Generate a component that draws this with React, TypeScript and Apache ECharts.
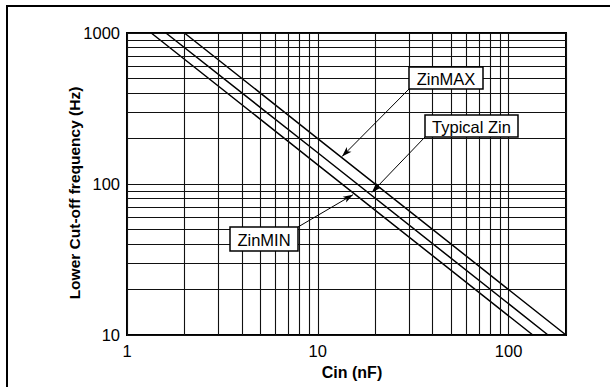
import React, { useEffect, useRef } from "react";
import * as echarts from "echarts";

// Data (Cin in nF, frequency in Hz)
const CIN_ZINMAX = [2, 10, 200];
const FREQ_ZINMAX = [1000, 200, 10];
const CIN_TYPICAL = [1.6, 10, 161];
const FREQ_TYPICAL = [1000, 161, 10];
const CIN_ZINMIN = [1.34, 10, 134];
const FREQ_ZINMIN = [1000, 134, 10];

const X_TICK_LABELS = ["1", "10", "100"];
const Y_TICK_LABELS = ["10", "100", "1000"];
const X_MINOR = [2, 3, 4, 5, 6, 7, 8, 9, 20, 30, 40, 50, 60, 70, 80, 90];
const Y_MINOR = [20, 30, 40, 50, 60, 70, 80, 90, 200, 300, 400, 500, 600, 700, 800, 900];

const LABELS = ["ZinMAX", "Typical Zin", "ZinMIN"];
// arrow tips in data coordinates [Cin, freq]
const ARROW_TIPS = [
  [13.4, 152],
  [19.2, 88],
  [15.3, 85],
];

const FONT = "'Liberation Sans', Arial, Helvetica, sans-serif";

function pair(xs: number[], ys: number[]) {
  return xs.map((x, i) => [x, ys[i]]);
}

function isDecade(v: number, labels: string[]) {
  const s = String(Math.round(v));
  return labels.includes(s) && Math.abs(v - Math.round(v)) < 1e-6 ? s : "";
}

export default function App() {
  const ref = useRef<HTMLDivElement>(null);
  useEffect(() => {
    const chart = echarts.init(ref.current!, null, { renderer: "svg" });
    const lineStyle = { color: "#000", width: 1.5 };
    const gridLine = { color: "#111", width: 1.1, type: "solid" };
    const boxes = [
      { x: 409, y: 67, w: 74, h: 22, start: [409, 89] },
      { x: 425, y: 115, w: 93, h: 22, start: [425, 137] },
      { x: 230, y: 227, w: 68, h: 24, start: [298, 227] },
    ];
    chart.setOption({
      animation: false,
      backgroundColor: "#fff",
      textStyle: { fontFamily: FONT },
      grid: {
        left: 127,
        top: 33,
        width: 439,
        height: 302,
        show: true,
        borderColor: "#000",
        borderWidth: 2,
        backgroundColor: "transparent",
      },
      xAxis: {
        type: "log",
        logBase: 10,
        min: 1,
        max: 200,
        axisLine: { show: false },
        axisTick: { show: false },
        splitLine: { show: true, lineStyle: gridLine },
        axisLabel: {
          formatter: (v: number) => isDecade(v, X_TICK_LABELS),
          fontSize: 16.5,
          color: "#000",
          fontFamily: FONT,
          margin: 7,
        },
      },
      yAxis: {
        type: "log",
        logBase: 10,
        min: 10,
        max: 1000,
        axisLine: { show: false },
        axisTick: { show: false },
        splitLine: { show: true, lineStyle: gridLine },
        axisLabel: {
          formatter: (v: number) => isDecade(v, Y_TICK_LABELS),
          fontSize: 16.5,
          color: "#000",
          fontFamily: FONT,
          margin: 7,
        },
      },
      series: [
        {
          type: "line",
          name: "grid",
          data: [],
          silent: true,
          markLine: {
            silent: true,
            symbol: ["none", "none"],
            label: { show: false },
            lineStyle: gridLine,
            emphasis: { disabled: true },
            data: [
              ...X_MINOR.map((v) => ({ xAxis: v })),
              ...Y_MINOR.map((v) => ({ yAxis: v })),
            ],
          },
        },
        {
          type: "line",
          name: LABELS[0],
          data: pair(CIN_ZINMAX, FREQ_ZINMAX),
          showSymbol: false,
          lineStyle,
          silent: true,
        },
        {
          type: "line",
          name: LABELS[1],
          data: pair(CIN_TYPICAL, FREQ_TYPICAL),
          showSymbol: false,
          lineStyle,
          silent: true,
        },
        {
          type: "line",
          name: LABELS[2],
          data: pair(CIN_ZINMIN, FREQ_ZINMIN),
          showSymbol: false,
          lineStyle,
          silent: true,
        },
        {
          type: "line",
          name: "arrows",
          data: [],
          silent: true,
          z: 5,
          markLine: {
            silent: true,
            symbol: ["none", "arrow"],
            symbolSize: [5, 10],
            label: { show: false },
            lineStyle: { color: "#000", width: 1, type: "solid" },
            emphasis: { disabled: true },
            data: boxes.map((b, i) => [
              { x: b.start[0], y: b.start[1] },
              { coord: ARROW_TIPS[i] },
            ]),
          },
        },
      ],
      graphic: [
        {
          type: "rect",
          silent: true,
          z: 100,
          shape: { x: 7, y: 6, width: 700, height: 500 },
          style: { fill: "none", stroke: "#000", lineWidth: 2 },
        },
        ...boxes.flatMap((b, i) => [
          {
            type: "rect",
            z: 100,
            shape: { x: b.x, y: b.y, width: b.w, height: b.h },
            style: { fill: "#fff", stroke: "#000", lineWidth: 1.5 },
          },
          {
            type: "text",
            z: 101,
            x: b.x + b.w / 2,
            y: b.y + b.h / 2 + 1,
            style: {
              text: LABELS[i],
              fill: "#000",
              font: `16.5px ${FONT}`,
              align: "center",
              verticalAlign: "middle",
            },
          },
        ]),
        {
          type: "text",
          z: 100,
          x: 352,
          y: 372,
          style: {
            text: "Cin (nF)",
            fill: "#000",
            font: `bold 16px ${FONT}`,
            align: "center",
            verticalAlign: "middle",
          },
        },
        {
          type: "text",
          z: 100,
          x: 74,
          y: 193,
          rotation: Math.PI / 2,
          style: {
            text: "Lower Cut-off frequency (Hz)",
            fill: "#000",
            font: `bold 15.5px ${FONT}`,
            align: "center",
            verticalAlign: "middle",
          },
        },
      ],
    });
    return () => chart.dispose();
  }, []);
  return (
    <div
      ref={ref}
      style={{ position: "fixed", left: 0, top: 0, width: 610, height: 387, background: "#fff" }}
    />
  );
}
